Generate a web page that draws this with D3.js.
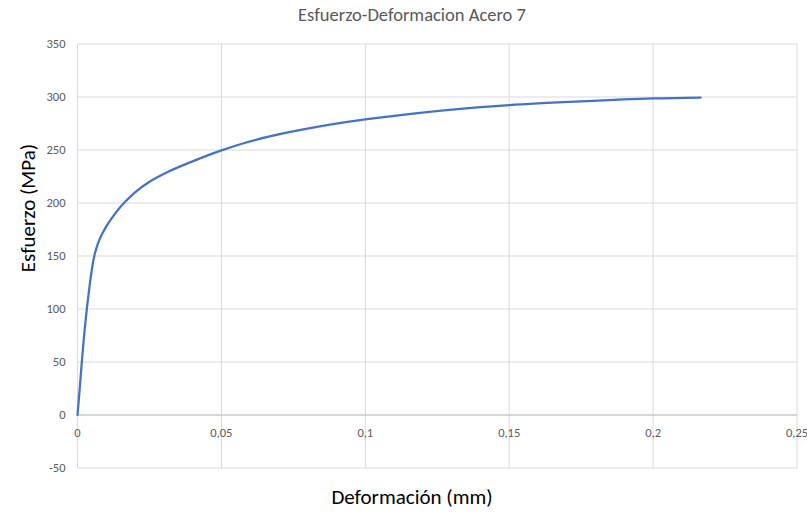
<!DOCTYPE html>
<html><head><meta charset="utf-8">
<script src="https://cdn.jsdelivr.net/npm/d3@7"></script>
<style>body{margin:0;background:#fff}svg{display:block}</style>
</head><body>
<svg id="c" width="807" height="518"></svg>
<script>
const strainX = [0,0.0008,0.0015,0.0023,0.0032,0.0043,0.005,0.0055,0.0062,0.007,0.0078,0.0088,0.01,0.012,0.0155,0.020,0.025,0.0315,0.040,0.050,0.058,0.0668,0.0842,0.1,0.119,0.135,0.15,0.175,0.2,0.2165];
const stressY = [0,26,50,75,99,124,137.5,145.5,154,161,166.5,172,178,186,198,210,220,229.5,239.3,249.6,256.6,262.8,272.2,278.8,285,289.2,292.3,295.8,298.6,299.5];
const xTicks = [0,0.05,0.1,0.15,0.2,0.25];
const yTicks = [-50,0,50,100,150,200,250,300,350];
const xTickLabels = ["0","0,05","0,1","0,15","0,2","0,25"];
const title = "Esfuerzo-Deformacion Acero 7";
const xTitle = "Deformación (mm)";
const yTitle = "Esfuerzo (MPa)";

const svg = d3.select("#c");
const L = 77.5, R = 797, T = 44, B = 468;
const x = d3.scaleLinear().domain([0,0.25]).range([L,R]);
const y = d3.scaleLinear().domain([-50,350]).range([B,T]);
const font = "Carlito, Lato, 'Open Sans', sans-serif";

// grid
svg.append("g").selectAll("line").data(yTicks).join("line")
  .attr("x1",L).attr("x2",R).attr("y1",d=>y(d)).attr("y2",d=>y(d))
  .attr("stroke","#d9d9d9").attr("stroke-width",1);
svg.append("g").selectAll("line").data(xTicks).join("line")
  .attr("x1",d=>x(d)).attr("x2",d=>x(d)).attr("y1",T).attr("y2",B)
  .attr("stroke","#d9d9d9").attr("stroke-width",1);
// zero axis
svg.append("line").attr("x1",L).attr("x2",R).attr("y1",y(0)).attr("y2",y(0))
  .attr("stroke","#bfbfbf").attr("stroke-width",1);

// y tick labels
svg.append("g").selectAll("text").data(yTicks).join("text")
  .attr("x",L-12).attr("y",d=>y(d)).attr("dy","0.35em")
  .attr("text-anchor","end").attr("font-family",font).attr("font-size",12.5)
  .attr("fill","#595959").text(d=>d);
// x tick labels
svg.append("g").selectAll("text").data(xTicks).join("text")
  .attr("x",d=>x(d)).attr("y",y(0)+22)
  .attr("text-anchor","middle").attr("font-family",font).attr("font-size",12.5)
  .attr("fill","#595959").text((d,i)=>xTickLabels[i]);

// line
const pts = strainX.map((v,i)=>[v,stressY[i]]);
svg.append("path").datum(pts)
  .attr("d", d3.line().x(d=>x(d[0])).y(d=>y(d[1])).curve(d3.curveCatmullRom.alpha(0.5)))
  .attr("fill","none").attr("stroke","#4472C4").attr("stroke-width",2.25)
  .attr("stroke-linecap","round");

// titles
svg.append("text").attr("x",412).attr("y",21).attr("text-anchor","middle")
  .attr("font-family",font).attr("font-size",18.5).attr("fill","#595959").text(title);
svg.append("text").attr("x",412).attr("y",504).attr("text-anchor","middle")
  .attr("font-family",font).attr("font-size",21).attr("fill","#000").text(xTitle);
svg.append("text").attr("transform","translate(35,208) rotate(-90)").attr("text-anchor","middle")
  .attr("font-family",font).attr("font-size",21).attr("fill","#000").text(yTitle);
</script>
</body></html>
